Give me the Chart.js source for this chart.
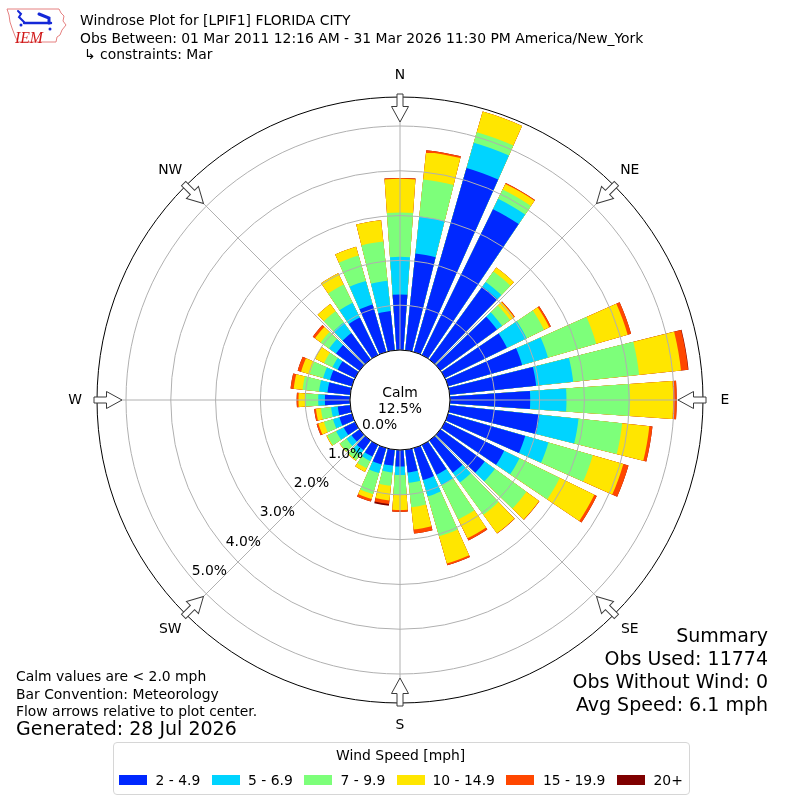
<!DOCTYPE html>
<html>
<head>
<meta charset="utf-8">
<title>Windrose Plot for [LPIF1] FLORIDA CITY</title>
<script src="https://cdn.jsdelivr.net/npm/chart.js@4.4.1/dist/chart.umd.min.js"></script>
<style>
  html, body { margin: 0; padding: 0; background: #fff; }
  #pagina { position: relative; width: 800px; height: 800px; overflow: hidden; font-family: 'DejaVu Sans', sans-serif; color: #000; }
  #rosa { position: absolute; left: 0; top: 0; }
  #logo { position: absolute; left: 0; top: 0; }
  .txt { position: absolute; white-space: pre; line-height: 1; font-size: 13.9px; }
  .grande { font-size: 19px; }
  .direita { text-align: right; }
  #caixaLegenda { position: absolute; left: 113px; top: 742px; width: 577px; height: 53px; box-sizing: border-box; border: 1px solid #d6d6d6; border-radius: 4px; }
  .amostra { position: absolute; width: 28px; height: 10px; }
</style>
</head>
<body>
<div id="pagina">
  <canvas id="rosa" width="800" height="800"></canvas>

  <svg id="logo" width="72" height="52" viewBox="0 0 72 52">
    <path d="M7 9 L59 9 L61 13 L64 16 L63 21 L66 25 L62 30 L60 35 L57 37 L56 42 L18 42 L15 36 L12 28 L10 22 L9 15 Z" fill="none" stroke="#e58080" stroke-width="1"/>
    <g stroke="#1428d8" fill="none" stroke-linecap="round">
      <path d="M18 11 L21 14 L19 17 L24 22" stroke-width="2"/>
      <path d="M24 23 L51 23" stroke-width="2.4"/>
      <path d="M39 14 L49 18 L49 23" stroke-width="3"/>
    </g>
    <circle cx="21" cy="25" r="1.5" fill="#1428d8"/>
    <circle cx="50" cy="29" r="1.5" fill="#1428d8"/>
    <text x="15" y="43" font-family="'Liberation Serif', serif" font-style="italic" font-size="17" fill="#d01818" textLength="28" lengthAdjust="spacingAndGlyphs">IEM</text>
  </svg>

  <div class="txt" style="left:80px; top:14.2px;">Windrose Plot for [LPIF1] FLORIDA CITY</div>
  <div class="txt" style="left:80px; top:31.5px;">Obs Between: 01 Mar 2011 12:16 AM - 31 Mar 2026 11:30 PM America/New_York</div>
  <div class="txt" style="left:84px; top:47.6px;">↳ constraints: Mar</div>

  <div class="txt" style="left:16px; top:669.9px;">Calm values are &lt; 2.0 mph</div>
  <div class="txt" style="left:16px; top:687.7px;">Bar Convention: Meteorology</div>
  <div class="txt" style="left:16px; top:704.9px;">Flow arrows relative to plot center.</div>
  <div class="txt grande" style="left:16px; top:718.9px;">Generated: 28 Jul 2026</div>

  <div class="txt grande direita" style="right:32px; top:625.9px;">Summary</div>
  <div class="txt grande direita" style="right:32px; top:648.9px;">Obs Used: 11774</div>
  <div class="txt grande direita" style="right:32px; top:671.9px;">Obs Without Wind: 0</div>
  <div class="txt grande direita" style="right:32px; top:694.9px;">Avg Speed: 6.1 mph</div>

  <div id="caixaLegenda"></div>
  <div id="legenda"></div>
</div>

<script>
// Rosa dos ventos - LPIF1 Florida City (março)

// direções de onde sopla o vento (graus)
const directions = [0, 10, 20, 30, 40, 50, 60, 70, 80, 90, 100, 110, 120, 130, 140, 150, 160, 170,
                    180, 190, 200, 210, 220, 230, 240, 250, 260, 270, 280, 290, 300, 310, 320, 330, 340, 350];

// faixas de velocidade (mph) e cores
const speedBins = ['2 - 4.9', '5 - 6.9', '7 - 9.9', '10 - 14.9', '15 - 19.9', '20+'];
const binColors = ['#0028ff', '#00d4ff', '#7dff7a', '#ffe600', '#ff4700', '#7f0000'];

// frequência (%) por direção em cada faixa
const freq2to5   = [1.24, 2.17, 4.27, 3.62, 2.01, 1.56, 1.54, 1.72, 1.94, 1.79, 2.01, 1.79, 1.47, 1.22, 0.89, 0.74, 0.74, 0.51,
                    0.37, 0.36, 0.38, 0.29, 0.27, 0.22, 0.28, 0.29, 0.28, 0.56, 0.51, 0.51, 0.43, 0.65, 0.73, 0.93, 1.10, 0.88];
const freq5to7   = [0.84, 0.83, 0.59, 0.26, 0.13, 0.14, 0.49, 0.60, 0.83, 0.81, 0.88, 0.54, 0.38, 0.28, 0.27, 0.26, 0.38, 0.23,
                    0.19, 0.15, 0.20, 0.11, 0.13, 0.14, 0.19, 0.15, 0.15, 0.15, 0.19, 0.16, 0.13, 0.19, 0.29, 0.37, 0.55, 0.68];
const freq7to10  = [0.99, 0.83, 0.24, 0.23, 0.29, 0.22, 0.43, 1.12, 1.48, 1.42, 0.98, 1.03, 1.00, 0.87, 0.89, 0.85, 0.93, 0.55,
                    0.44, 0.30, 0.49, 0.18, 0.14, 0.18, 0.22, 0.21, 0.23, 0.29, 0.37, 0.31, 0.21, 0.23, 0.31, 0.45, 0.59, 0.88];
const freq10to15 = [0.75, 0.62, 0.48, 0.14, 0.11, 0.11, 0.13, 0.73, 0.94, 0.96, 0.61, 0.71, 0.86, 0.35, 0.51, 0.47, 0.63, 0.50,
                    0.34, 0.33, 0.11, 0.09, 0.02, 0.01, 0.02, 0.13, 0.11, 0.15, 0.20, 0.20, 0.22, 0.16, 0.20, 0.28, 0.20, 0.48];
const freq15to20 = [0.02, 0.04, 0.00, 0.02, 0.00, 0.02, 0.04, 0.08, 0.16, 0.08, 0.07, 0.12, 0.06, 0.01, 0.01, 0.05, 0.04, 0.09,
                    0.04, 0.08, 0.06, 0.00, 0.00, 0.00, 0.00, 0.04, 0.04, 0.04, 0.07, 0.08, 0.00, 0.06, 0.00, 0.00, 0.00, 0.00];
const freq20plus = [0.00, 0.00, 0.00, 0.00, 0.00, 0.00, 0.00, 0.00, 0.01, 0.00, 0.00, 0.00, 0.00, 0.00, 0.00, 0.00, 0.00, 0.00,
                    0.00, 0.04, 0.00, 0.00, 0.00, 0.00, 0.00, 0.00, 0.00, 0.00, 0.00, 0.00, 0.00, 0.00, 0.00, 0.00, 0.00, 0.00];

const calmPercent = 12.5;
const ringTicks = [0, 1, 2, 3, 4, 5];
const compassNames = ['N', 'NE', 'E', 'SE', 'S', 'SW', 'W', 'NW'];
const compassDegrees = [0, 45, 90, 135, 180, 225, 270, 315];

// escala radial: o 0% fica na borda do círculo de calmaria
const R_MIN = -1.116;
const R_MAX = 5.647;
const BARRA_GRAUS = 8;
const VAO_GRAUS = 2;
const ANGULO_ROTULOS = 229.5;
const FONTE = "13.9px 'DejaVu Sans', sans-serif";

// posições da legenda (x da amostra e do texto)
const legendaAmostraX = [119, 211.7, 303.9, 396.6, 506.3, 617.1];
const legendaTextoX = [155.5, 248, 340.5, 432.5, 543, 653.5];

document.addEventListener("DOMContentLoaded", function () {
    montarLegenda();
    desenharRosa();
});

function pontoPolar(escala, graus, raio) {
    const a = graus * Math.PI / 180;
    return { x: escala.xCenter + raio * Math.sin(a), y: escala.yCenter - raio * Math.cos(a) };
}

const decoracaoRosa = {
    id: 'decoracaoRosa',
    afterDatasetsDraw(chart) {
        // linhas radiais nos pontos cardeais
        const escala = chart.scales.r;
        const ctx = chart.ctx;
        const raioExterno = escala.getDistanceFromCenterForValue(R_MAX);
        ctx.save();
        ctx.strokeStyle = '#b0b0b0';
        ctx.lineWidth = 1;
        compassDegrees.forEach(graus => {
            const p = pontoPolar(escala, graus, raioExterno);
            ctx.beginPath();
            ctx.moveTo(escala.xCenter, escala.yCenter);
            ctx.lineTo(p.x, p.y);
            ctx.stroke();
        });
        ctx.restore();
    },
    afterDraw(chart) {
        const escala = chart.scales.r;
        const ctx = chart.ctx;
        const cx = escala.xCenter, cy = escala.yCenter;
        const raioCalmo = escala.getDistanceFromCenterForValue(0);
        const raioExterno = escala.getDistanceFromCenterForValue(R_MAX);
        ctx.save();

        // círculo de calmaria
        ctx.beginPath();
        ctx.arc(cx, cy, raioCalmo, 0, Math.PI * 2);
        ctx.fillStyle = '#fff';
        ctx.fill();
        ctx.strokeStyle = '#000';
        ctx.lineWidth = 1;
        ctx.stroke();

        ctx.fillStyle = '#000';
        ctx.font = FONTE;
        ctx.textAlign = 'center';
        ctx.textBaseline = 'alphabetic';
        ctx.fillText('Calm', cx, cy - 3.5);
        ctx.fillText(calmPercent.toFixed(1) + '%', cx, cy + 12.7);

        // rótulos dos anéis
        ctx.textAlign = 'left';
        ctx.textBaseline = 'bottom';
        ringTicks.forEach(v => {
            const p = pontoPolar(escala, ANGULO_ROTULOS, escala.getDistanceFromCenterForValue(v));
            ctx.fillText(v.toFixed(1) + '%', p.x, p.y);
        });

        // setas de fluxo e nomes das direções
        compassDegrees.forEach((graus, i) => {
            ctx.save();
            ctx.translate(cx, cy);
            ctx.rotate(graus * Math.PI / 180);
            const ponta = raioExterno - 25, base = raioExterno - 9.5, cauda = raioExterno + 3;
            ctx.beginPath();
            ctx.moveTo(0, -ponta);
            ctx.lineTo(8.5, -base);
            ctx.lineTo(3, -base);
            ctx.lineTo(3, -cauda);
            ctx.lineTo(-3, -cauda);
            ctx.lineTo(-3, -base);
            ctx.lineTo(-8.5, -base);
            ctx.closePath();
            ctx.fillStyle = '#fff';
            ctx.fill();
            ctx.strokeStyle = '#3a3a3a';
            ctx.lineWidth = 1;
            ctx.stroke();
            ctx.restore();

            const p = pontoPolar(escala, graus, raioExterno + 22);
            ctx.fillStyle = '#000';
            ctx.textAlign = 'center';
            ctx.textBaseline = 'middle';
            ctx.fillText(compassNames[i], p.x, p.y);
        });
        ctx.restore();
    }
};

function desenharRosa() {
    // barras empilhadas: cada conjunto vai do centro até o acumulado da faixa
    const faixas = [freq2to5, freq5to7, freq7to10, freq10to15, freq15to20, freq20plus];
    const acumulado = directions.map(() => 0);
    const datasets = faixas.map((serie, i) => {
        const valores = [];
        directions.forEach((d, k) => {
            acumulado[k] += serie[k];
            valores.push(acumulado[k], R_MIN); // barra + vão
        });
        return {
            label: speedBins[i],
            data: valores,
            backgroundColor: binColors[i],
            borderWidth: 0,
            angle: c => (c.dataIndex % 2 === 0 ? BARRA_GRAUS : VAO_GRAUS)
        };
    });
    const rotulos = [];
    directions.forEach(d => rotulos.push(d + '°', ''));

    new Chart(document.getElementById('rosa'), {
        type: 'polarArea',
        data: { labels: rotulos, datasets: datasets },
        options: {
            responsive: false,
            animation: false,
            devicePixelRatio: 1,
            events: [],
            layout: { padding: 97 },
            plugins: { legend: { display: false }, tooltip: { enabled: false } },
            scales: {
                r: {
                    min: R_MIN,
                    max: R_MAX,
                    startAngle: -BARRA_GRAUS / 2,
                    ticks: { display: false },
                    pointLabels: { display: false },
                    angleLines: { display: false },
                    afterBuildTicks: escala => {
                        escala.ticks = ringTicks.concat([R_MAX]).map(v => ({ value: v }));
                    },
                    grid: {
                        z: 1,
                        circular: true,
                        lineWidth: 1,
                        color: c => (c.tick && c.tick.value === R_MAX ? '#000' : '#b0b0b0')
                    }
                }
            }
        },
        plugins: [decoracaoRosa]
    });
}

function montarLegenda() {
    const pagina = document.getElementById('pagina');
    const titulo = document.createElement('div');
    titulo.className = 'txt';
    titulo.textContent = 'Wind Speed [mph]';
    titulo.style.left = '336px';
    titulo.style.top = '749.3px';
    pagina.appendChild(titulo);
    speedBins.forEach((faixa, i) => {
        const amostra = document.createElement('div');
        amostra.className = 'amostra';
        amostra.style.left = legendaAmostraX[i] + 'px';
        amostra.style.top = '775px';
        amostra.style.background = binColors[i];
        pagina.appendChild(amostra);
        const texto = document.createElement('div');
        texto.className = 'txt';
        texto.textContent = faixa;
        texto.style.left = legendaTextoX[i] + 'px';
        texto.style.top = '773.5px';
        pagina.appendChild(texto);
    });
}
</script>
</body>
</html>
